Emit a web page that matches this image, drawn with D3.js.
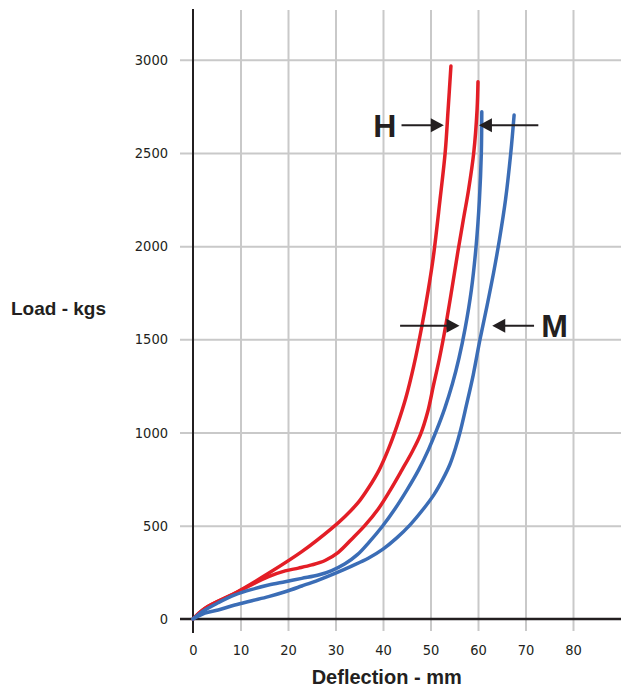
<!DOCTYPE html>
<html>
<head>
<meta charset="utf-8">
<script src="https://cdn.jsdelivr.net/npm/d3@7"></script>
<style>
  body { margin: 0; background: #fff; }
  .tick text { font-family: "Liberation Sans Narrow", "DejaVu Sans Condensed", "Liberation Sans", sans-serif; font-size: 14.5px; fill: #231f20; }
  .title { font-family: "Liberation Sans", Arial, sans-serif; font-weight: bold; fill: #231f20; }
</style>
</head>
<body>
<div id="chart-area"></div>
<script>
// data: deflection (mm) and load (kg) per curve
var defTicks = [0, 10, 20, 30, 40, 50, 60, 70, 80];
var loadTicks = [0, 500, 1000, 1500, 2000, 2500, 3000];

var hLeftDef  = [0, 2.5, 8.8, 15.9, 22.9, 29.2, 32.0, 34.8, 37.0, 39.2, 41.2, 43.0, 44.8, 46.5, 48.2, 49.5, 50.6, 52.0, 53.1, 53.7, 54.3];
var hLeftLoad = [0, 57, 138, 245, 361, 486, 550, 625, 705, 800, 915, 1040, 1185, 1360, 1573, 1760, 1943, 2248, 2505, 2729, 2966];

var hRightDef  = [0, 2.5, 8.8, 15.9, 19.4, 22.2, 25.0, 27.8, 30.6, 33.4, 36.2, 39.0, 41.5, 44.0, 46.2, 47.9, 49.4, 50.6, 51.9, 53.2, 54.5, 55.7, 56.9, 58.0, 59.1, 59.8, 60.0];
var hRightLoad = [0, 57, 138, 227, 258, 273, 290, 314, 358, 428, 502, 590, 690, 800, 900, 990, 1110, 1250, 1400, 1573, 1770, 1960, 2140, 2300, 2500, 2730, 2882];

var mLeftDef  = [0, 2.5, 5.3, 8.8, 12.4, 15.9, 19.4, 22.9, 26.4, 29.2, 32.0, 34.6, 37.0, 39.8, 42.5, 45.0, 47.5, 49.6, 51.3, 53.0, 54.6, 56.0, 57.3, 58.6, 59.6, 60.3, 60.7, 60.8];
var mLeftLoad = [0, 48, 87, 129, 159, 182, 200, 218, 236, 260, 296, 345, 410, 495, 590, 690, 800, 910, 1014, 1130, 1260, 1400, 1560, 1765, 2000, 2250, 2500, 2721];

var mRightDef  = [0, 2.5, 5.3, 8.8, 12.4, 15.9, 19.4, 22.9, 26.4, 29.9, 33.4, 36.9, 40.0, 42.9, 45.7, 48.5, 50.8, 52.6, 54.1, 55.3, 56.3, 57.5, 59.0, 60.4, 61.9, 63.3, 64.5, 65.8, 66.9, 67.6];
var mRightLoad = [0, 31, 48, 75, 98, 120, 146, 177, 209, 245, 284, 326, 375, 435, 505, 590, 670, 750, 830, 920, 1010, 1140, 1310, 1497, 1680, 1860, 2033, 2250, 2500, 2703];

// annotation arrows: [fromDef, toDef, load]
var arrowsH = [[43.9, 52.8, 2648], [72.7, 60.2, 2648]];
var arrowsM = [[43.6, 56.1, 1573], [71.8, 63.0, 1573]];
var labels = [["H", 40.4, 2648], ["M", 76.1, 1573]];

var red = "#e31e26", blue = "#3b6db6", ink = "#231f20", grid = "#c9c9c9";

var width = 621, height = 689;
var svg = d3.select("#chart-area").append("svg")
    .attr("width", width)
    .attr("height", height);

var x = d3.scaleLinear().domain([0, 80]).range([193, 573]);
var y = d3.scaleLinear().domain([0, 3000]).range([619, 59.7]);

// Grid
svg.append("g")
    .attr("transform", "translate(0,631)")
    .call(d3.axisBottom(x).tickValues(defTicks.slice(1)).tickSize(-621).tickFormat(""))
    .call(function(g){ g.select(".domain").remove(); })
    .selectAll("line").attr("stroke", grid).attr("stroke-width", 2);

svg.append("g")
    .attr("transform", "translate(180,0)")
    .call(d3.axisRight(y).tickValues(loadTicks.slice(1)).tickSize(441).tickFormat(""))
    .call(function(g){ g.select(".domain").remove(); })
    .selectAll("line").attr("stroke", grid).attr("stroke-width", 2);

// Tick labels
svg.append("g")
    .attr("transform", "translate(193,0)")
    .call(d3.axisLeft(y).tickValues(loadTicks).tickSize(0).tickPadding(25).tickFormat(d3.format("d")))
    .call(function(g){ g.select(".domain").remove(); });

svg.append("g")
    .attr("transform", "translate(0,619)")
    .call(d3.axisBottom(x).tickValues(defTicks).tickSize(0).tickPadding(26).tickFormat(d3.format("d")))
    .call(function(g){ g.select(".domain").remove(); });

// Axis lines
svg.append("line")
    .attr("x1", 180).attr("x2", 621)
    .attr("y1", y(0)).attr("y2", y(0))
    .attr("stroke", ink).attr("stroke-width", 2.5);
svg.append("line")
    .attr("x1", x(0)).attr("x2", x(0))
    .attr("y1", 9).attr("y2", 633)
    .attr("stroke", ink).attr("stroke-width", 2);

// Curves
var line = d3.line()
    .x(function(d){ return x(d[0]); })
    .y(function(d){ return y(d[1]); })
    .curve(d3.curveCatmullRom.alpha(0.5));

var curves = [
    { def: hLeftDef, load: hLeftLoad, color: red },
    { def: hRightDef, load: hRightLoad, color: red },
    { def: mLeftDef, load: mLeftLoad, color: blue },
    { def: mRightDef, load: mRightLoad, color: blue }
];

curves.forEach(function(c){
    var pts = c.def.map(function(d, i){ return [d, c.load[i]]; });
    svg.append("path")
        .datum(pts)
        .attr("d", line)
        .attr("fill", "none")
        .attr("stroke", c.color)
        .attr("stroke-width", 3.5)
        .attr("stroke-linecap", "round");
});

// Arrows
arrowsH.concat(arrowsM).forEach(function(a){
    var x0 = x(a[0]), x1 = x(a[1]), yy = y(a[2]);
    var dir = x1 > x0 ? 1 : -1;
    svg.append("line")
        .attr("x1", x0).attr("x2", x1 - dir * 10)
        .attr("y1", yy).attr("y2", yy)
        .attr("stroke", ink).attr("stroke-width", 2);
    svg.append("path")
        .attr("d", "M" + x1 + "," + yy +
            "L" + (x1 - dir * 13) + "," + (yy - 7) +
            "L" + (x1 - dir * 13) + "," + (yy + 7) + "Z")
        .attr("fill", ink);
});

labels.forEach(function(l){
    svg.append("text")
        .attr("class", "title")
        .attr("x", x(l[1]))
        .attr("y", y(l[2]))
        .attr("dy", "0.36em")
        .attr("text-anchor", "middle")
        .attr("font-size", "32px")
        .text(l[0]);
});

// Axis titles
svg.append("text")
    .attr("class", "title")
    .attr("x", 386.7)
    .attr("y", 684)
    .attr("text-anchor", "middle")
    .attr("font-size", "20px")
    .text("Deflection - mm");

svg.append("text")
    .attr("class", "title")
    .attr("x", 11)
    .attr("y", 315)
    .attr("font-size", "19px")
    .text("Load - kgs");
</script>
</body>
</html>
